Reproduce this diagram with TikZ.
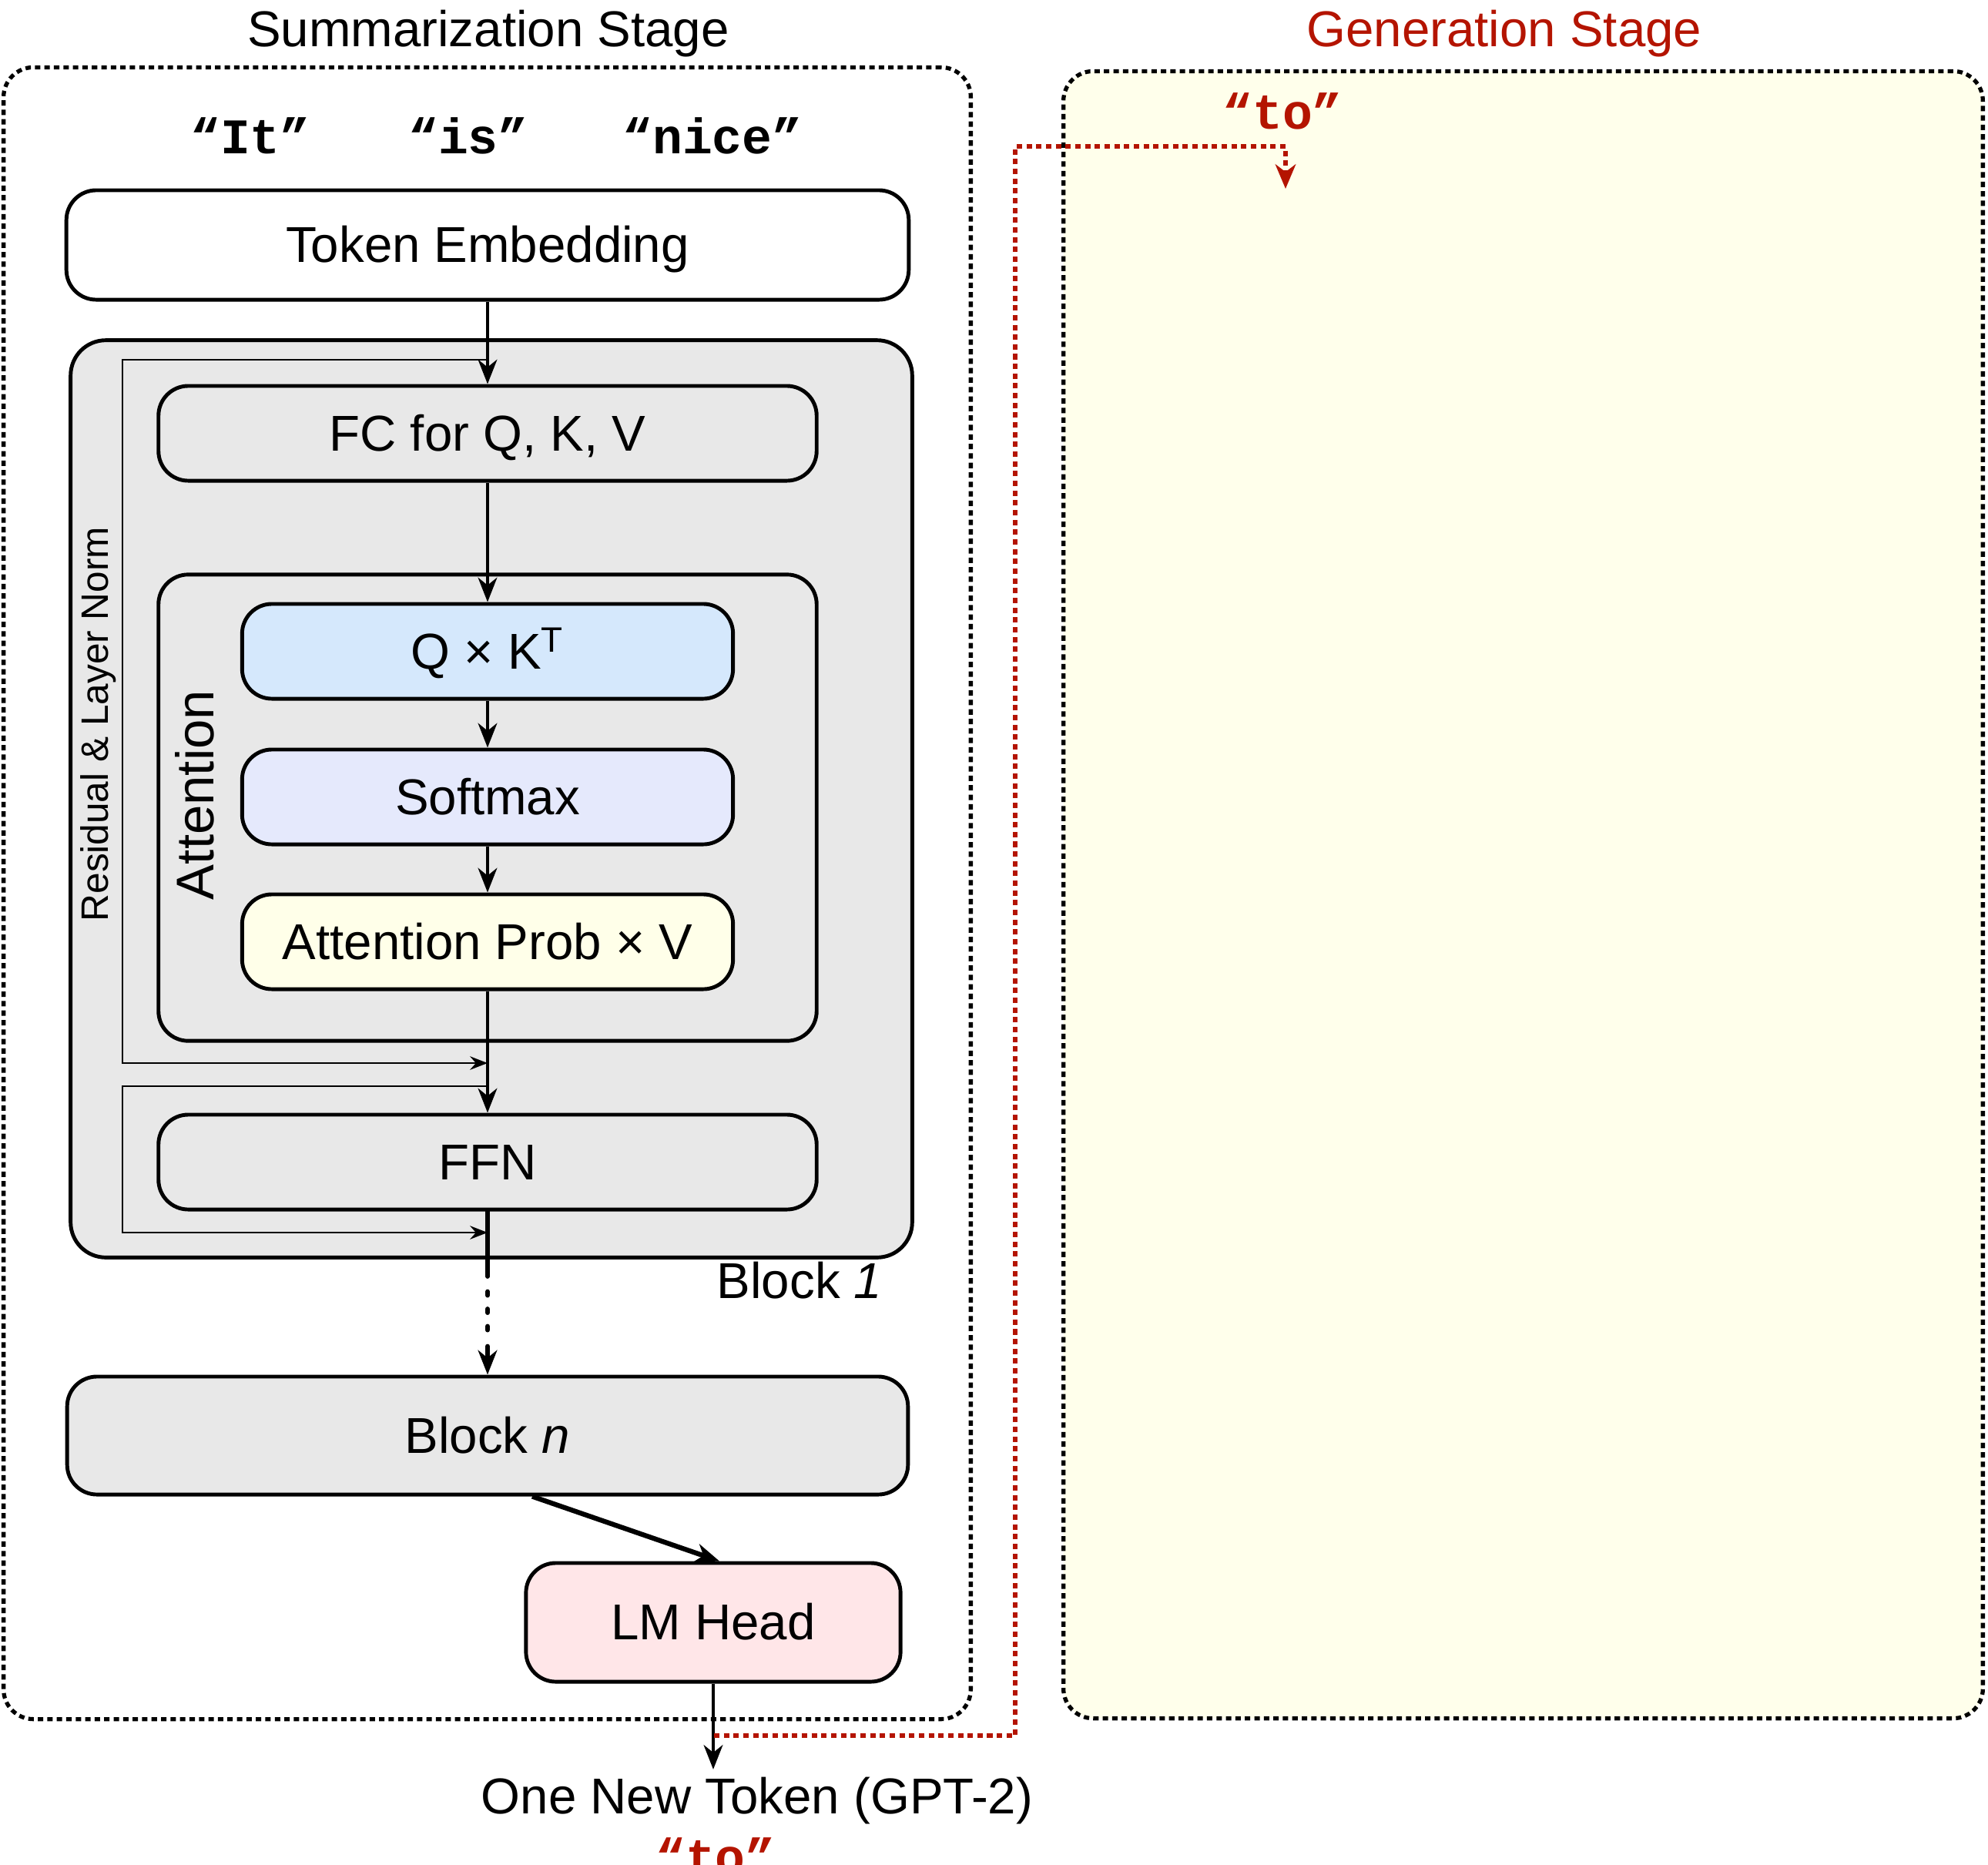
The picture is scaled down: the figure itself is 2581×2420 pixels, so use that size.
\documentclass[tikz,border=0pt]{standalone}
\usepackage{fontspec}
\setmainfont{Liberation Sans}
\setmonofont{Liberation Mono}
\usetikzlibrary{arrows.meta,calc}

\definecolor{blockgray}{HTML}{E8E8E8}
\definecolor{qkblue}{HTML}{D5E8FC}
\definecolor{smlav}{HTML}{E5E9FC}
\definecolor{probyel}{HTML}{FFFFE9}
\definecolor{headpink}{HTML}{FFE6E8}
\definecolor{genyel}{HTML}{FFFFEB}
\definecolor{genred}{HTML}{B41400}

\begin{document}
\begin{tikzpicture}[x=0.01cm,y=-0.01cm,
  every node/.style={font=\fontsize{18.6}{22}\selectfont},
  box/.style={draw, line width=1.4pt, rounded corners=11pt, inner sep=0pt,
    text height=13pt, text depth=0pt, align=center},
  stage/.style={draw, line width=1.5pt, dash pattern=on 2pt off 1.5pt,
    rounded corners=11pt, inner sep=0pt},
  flow/.style={line width=1.4pt, -{Stealth[length=9pt,width=7pt,inset=2.8pt]}},
  resid/.style={line width=0.7pt, -{Stealth[length=6.5pt,width=5pt,inset=2.2pt]}},
  genpath/.style={genred, line width=1.5pt, dash pattern=on 2pt off 1.6pt,
    -{Stealth[length=9pt,width=7.5pt,inset=2.8pt]}},
  lbl/.style={inner sep=0pt, anchor=base},
  tok/.style={lbl, font=\fontsize{18.4}{22}\selectfont\ttfamily\bfseries},
  sidelbl/.style={rotate=90, inner sep=0pt, text depth=0pt}
]
\useasboundingbox (0,0) rectangle (2581,2420);

% stage frames
\node[stage, minimum width=12.55cm, minimum height=21.43cm] (sumbox) at (632.5,1159.5) {};
\node[stage, fill=genyel, minimum width=11.93cm, minimum height=21.37cm] (genbox) at (1977.5,1161.5) {};

% stage titles
\node[lbl] (sumtitle) at (634,60) {Summarization Stage};
\node[lbl, text=genred] (gentitle) at (1953,60) {Generation Stage};

% input tokens
\node[tok] (tokit) at (325,199) {“It”};
\node[tok] (tokis) at (608,199) {“is”};
\node[tok] (toknice) at (925,199) {“nice”};

% embedding
\node[box, fill=white, minimum width=10.93cm, minimum height=1.42cm] (emb) at (633,318) {Token Embedding};

% transformer block 1
\node[box, fill=blockgray, rounded corners=13pt, minimum width=10.92cm, minimum height=11.9cm] (block1) at (638,1037) {};
\node[box, minimum width=8.54cm, minimum height=1.23cm] (fc) at (633,562.5) {FC for Q, K, V};
\node[box, minimum width=8.54cm, minimum height=6.05cm] (attn) at (633,1048.5) {};
\node[box, fill=qkblue, minimum width=6.37cm, minimum height=1.23cm] (qk) at (633,845.5) {Q × K\textsuperscript{T}};
\node[box, fill=smlav, minimum width=6.37cm, minimum height=1.23cm] (soft) at (633,1034.5) {Softmax};
\node[box, fill=probyel, minimum width=6.37cm, minimum height=1.23cm] (prob) at (633,1222.5) {Attention Prob × V};
\node[box, minimum width=8.54cm, minimum height=1.23cm] (ffn) at (633,1508.5) {FFN};

\node[sidelbl, text height=10pt, font=\fontsize{14.1}{17}\selectfont] (reslbl) at (123,940) {Residual \& Layer Norm};
\node[sidelbl, text height=14pt, font=\fontsize{19.6}{23}\selectfont] (attnlbl) at (253,1032) {Attention};
\node[lbl, anchor=base east] (b1lbl) at (1146,1685) {Block \textit{1}};

% last block and head
\node[box, fill=blockgray, minimum width=10.91cm, minimum height=1.53cm] (blockn) at (633,1863.5) {Block \textit{n}};
\node[box, fill=headpink, minimum width=4.86cm, minimum height=1.54cm] (head) at (926,2106) {LM Head};

\node[lbl] (out) at (983,2354) {One New Token (GPT-2)};
\node[tok, text=genred] (outto) at (929,2432) {“to”};
\node[tok, text=genred] (gento) at (1665,167) {“to”};

% main data flow
\draw[flow] (emb.south) -- (fc.north);
\draw[flow] (fc.south) -- (qk.north);
\draw[flow] (qk.south) -- (soft.north);
\draw[flow] (soft.south) -- (prob.north);
\draw[flow] (prob.south) -- (ffn.north);
\draw[flow, line width=1.7pt, line cap=round,
  dash pattern=on 24pt off 5.6pt on 1.4pt off 5pt on 1.4pt off 5pt on 1.4pt off 6pt on 60pt]
  (ffn.south) -- (blockn.north);
\draw[flow, line width=1.8pt] ($(blockn.south)+(58,0)$) -- ($(head.north)+(8,0)$);
\draw[flow] (head.south) -- ($(head.south |- out.north)+(0,-9)$);

% residual connections
\coordinate (r1s) at (633,467);
\coordinate (r1c) at (159,467);
\coordinate (r1e) at (633,1380);
\coordinate (r2s) at (633,1410);
\coordinate (r2c) at (159,1410);
\coordinate (r2e) at (633,1600);
\draw[resid] (r1s) -- (r1c) |- (r1e);
\draw[resid] (r2s) -- (r2c) |- (r2e);

% new token fed back into generation
\coordinate (tap) at (927,2253);
\coordinate (up) at (1318,190);
\coordinate (genin) at (1669,245);
\draw[genpath] (tap) -| (up) -| (genin);
\end{tikzpicture}
\end{document}
